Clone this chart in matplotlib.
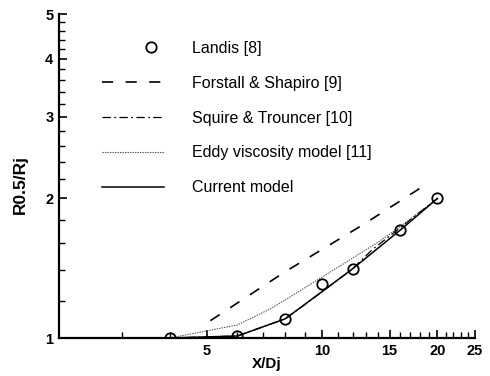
import numpy as np
import matplotlib
matplotlib.use("Agg")
import matplotlib.pyplot as plt
from matplotlib.ticker import FixedLocator, FixedFormatter, MultipleLocator, NullFormatter
from matplotlib.legend_handler import HandlerLine2DCompound

plt.rcParams['font.family'] = ['Liberation Sans', 'DejaVu Sans']
plt.rcParams['lines.scale_dashes'] = False

# ---- data ----
landis_x = [4, 6, 8, 10, 12, 16, 20]
landis_y = [1.0, 1.01, 1.10, 1.31, 1.41, 1.71, 2.0]

forstall_x = [5.1, 8, 12.7, 18.6]
forstall_y = [1.09, 1.39, 1.75, 2.14]

squire_x = [4, 6, 8, 9, 10, 12, 13.5, 16, 18, 20]
squire_y = [1.0, 1.01, 1.10, 1.18, 1.26, 1.41, 1.55, 1.73, 1.87, 2.0]

eddy_x = [4, 6, 7.3, 8, 10, 14, 16, 20]
eddy_y = [1.0, 1.067, 1.155, 1.208, 1.354, 1.61, 1.74, 2.0]

current_x = [4, 6, 8, 10, 12, 16, 20]
current_y = [1.0, 1.01, 1.10, 1.26, 1.41, 1.71, 2.0]

x_ticks = [5, 10, 15, 20, 25]
y_ticks = [1, 2, 3, 4, 5]

labels = ["Landis [8]", "Forstall & Shapiro [9]", "Squire & Trouncer [10]",
          "Eddy viscosity model [11]", "Current model"]

# ---- figure ----
L, R, T, B = 59, 474.5, 14, 338
fig = plt.figure(figsize=(4.9, 3.76), dpi=100)
ax = fig.add_axes([L/490, 1 - B/376, (R - L)/490, (B - T)/376])
ax.set_xscale('log')
ax.set_yscale('log')
ax.set_xlim(2.05, 25)
ax.set_ylim(1, 5)

h_land, = ax.plot(landis_x, landis_y, linestyle='none', marker='o', ms=7.5,
                  mfc='none', mec='black', mew=1.3, zorder=5)
h_for, = ax.plot(forstall_x, forstall_y, color='black', lw=1.2,
                 linestyle=(0, (8, 9)))
h_sq, = ax.plot(squire_x, squire_y, color='black', lw=0.9,
                linestyle=(0, (6, 2.5, 1.2, 2.5)))
h_ed, = ax.plot(eddy_x, eddy_y, color='#555555', lw=0.8,
                linestyle=(0, (1, 0.8)))
h_cur, = ax.plot(current_x, current_y, color='black', lw=1.1)

for s in ['top', 'right']:
    ax.spines[s].set_visible(False)
for s in ['left', 'bottom']:
    ax.spines[s].set_linewidth(1.6)

ax.xaxis.set_major_locator(FixedLocator(x_ticks))
ax.xaxis.set_major_formatter(FixedFormatter([str(v) for v in x_ticks]))
ax.xaxis.set_minor_locator(MultipleLocator(1))
ax.xaxis.set_minor_formatter(NullFormatter())
ax.yaxis.set_major_locator(FixedLocator(y_ticks))
ax.yaxis.set_major_formatter(FixedFormatter([str(v) for v in y_ticks]))
ax.yaxis.set_minor_locator(MultipleLocator(0.2))
ax.yaxis.set_minor_formatter(NullFormatter())

ax.tick_params(which='major', direction='in', length=6, width=1.2,
               labelsize=10.5, pad=4)
ax.tick_params(which='minor', direction='in', length=4, width=1.0)
for lab in ax.get_xticklabels() + ax.get_yticklabels():
    lab.set_fontweight('bold')

ax.set_xlabel('X/Dj', fontsize=11, fontweight='bold')
ax.set_ylabel('R0.5/Rj', fontsize=12.5, fontweight='bold')
ax.xaxis.set_label_coords((266.7 - L) / (R - L), -(357 - B) / (B - T))
ax.yaxis.set_label_coords(-(L - 28) / (R - L), (B - 185) / (B - T))


class RightMarkerHandler(HandlerLine2DCompound):
    def get_xdata(self, legend, xdescent, ydescent, width, height, fontsize):
        xdata = np.array([-xdescent, -xdescent + width])
        return xdata, np.array([-xdescent + 0.79 * width])


leg = fig.legend([h_land, h_for, h_sq, h_ed, h_cur], labels,
                 loc='upper left', bbox_to_anchor=(102/490, 1 - 41/376),
                 frameon=False, fontsize=11.5, handlelength=3.9,
                 handletextpad=1.75, labelspacing=1.24, borderpad=0,
                 borderaxespad=0, numpoints=1,
                 handler_map={h_land: RightMarkerHandler(numpoints=1)})

fig.savefig('out.png', dpi=100)
